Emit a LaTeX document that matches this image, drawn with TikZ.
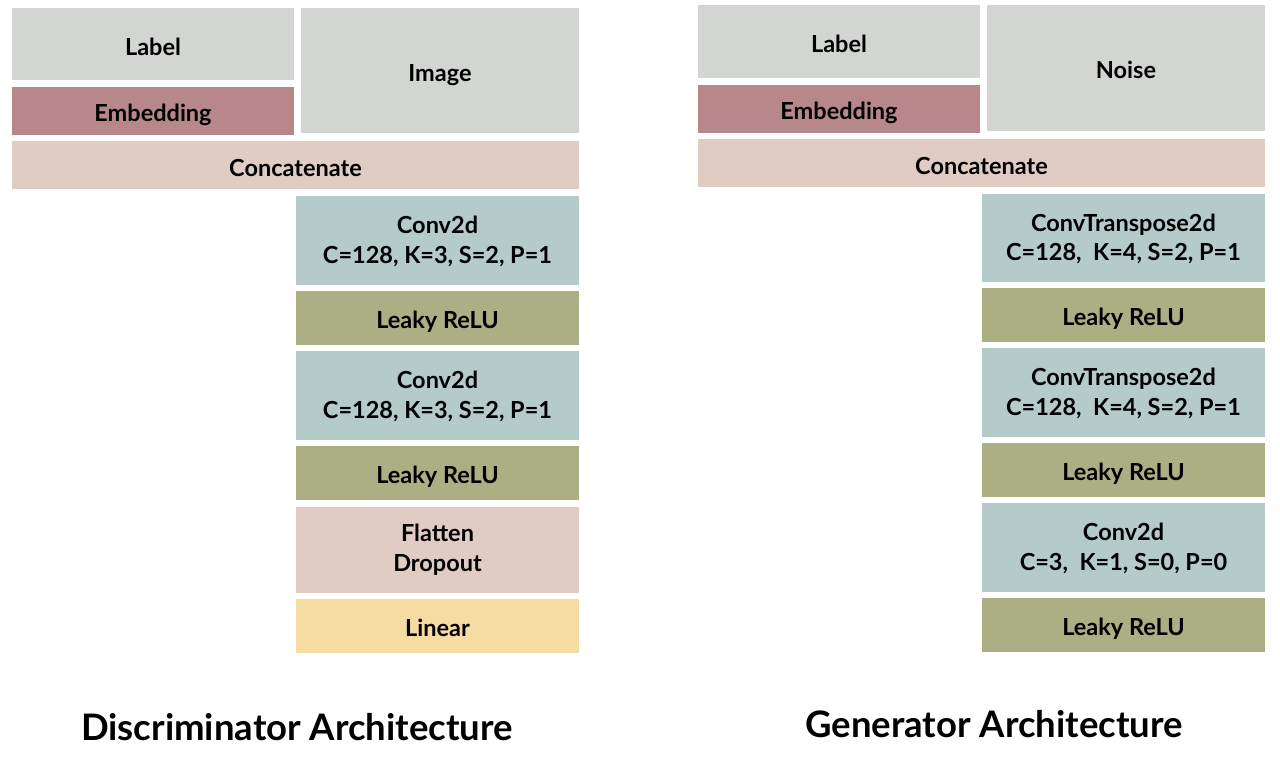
\documentclass[tikz,border=0pt]{standalone}
\usepackage{fontspec}
\setmainfont{Lato}
\definecolor{cgray}{HTML}{D3D5D2}
\definecolor{cmauve}{HTML}{B7878B}
\definecolor{cconcat}{HTML}{E0CCC2}
\definecolor{cteal}{HTML}{B5CBC9}
\definecolor{colive}{HTML}{ACAF84}
\definecolor{cyellow}{HTML}{F6DCA3}
\newcommand{\blk}[8]{%
  \node[blk, fill=#6, minimum width={(#4)-(#2)}, minimum height={(#5)-(#3)}]
    (#1) at ({((#2)+(#4))/2},{((#3)+(#5))/2})
    {\raisebox{-#8pt}[\height][\depth]{\begin{tabular}{@{}c@{}}#7\end{tabular}}};}
\begin{document}
\begin{tikzpicture}[x=1pt,y=-1pt,
  blk/.style={rectangle, draw=none, inner sep=0pt, align=center,
    font=\fontsize{23.5}{29.5}\selectfont\bfseries, text=black},
  ttl/.style={font=\fontsize{36.5}{42}\selectfont\bfseries, text=black}]
\useasboundingbox[fill=white] (0,0) rectangle (1280,762);
% Discriminator
\blk{dlabel}{12}{8}{294}{80}{cgray}{Label}{5.5}
\blk{demb}{12}{87}{294}{135}{cmauve}{Embedding}{5}
\blk{dimg}{301}{8}{579}{133}{cgray}{Image}{5}
\blk{dcat}{12}{141}{579}{189}{cconcat}{Concatenate}{5.5}
\blk{dconv1}{296}{196}{579}{285}{cteal}{Conv2d\\C=128, K=3, S=2, P=1}{2}
\blk{drelu1}{296}{291}{579}{345}{colive}{Leaky ReLU}{5}
\blk{dconv2}{296}{351}{579}{440}{cteal}{Conv2d\\C=128, K=3, S=2, P=1}{2}
\blk{drelu2}{296}{446}{579}{500}{colive}{Leaky ReLU}{5}
\blk{dflat}{296}{507}{579}{593}{cconcat}{Flatten\\Dropout}{0.5}
\blk{dlin}{296}{599}{579}{653}{cyellow}{Linear}{5}
\node[ttl] (dtitle) at (297,727) {Discriminator Architecture};
% Generator
\blk{glabel}{698}{5}{980}{78}{cgray}{Label}{5.5}
\blk{gemb}{698}{85}{980}{133}{cmauve}{Embedding}{5}
\blk{gnoise}{987}{5}{1265}{131}{cgray}{Noise}{5}
\blk{gcat}{698}{139}{1265}{187}{cconcat}{Concatenate}{5.5}
\blk{gct1}{982}{194}{1265}{282}{cteal}{ConvTranspose2d\\C=128,\ \ K=4, S=2, P=1}{2}
\blk{grelu1}{982}{288}{1265}{342}{colive}{Leaky ReLU}{5}
\blk{gct2}{982}{348}{1265}{437}{cteal}{ConvTranspose2d\\C=128,\ \ K=4, S=2, P=1}{2}
\blk{grelu2}{982}{443}{1265}{497}{colive}{Leaky ReLU}{5}
\blk{gconv}{982}{503}{1265}{592}{cteal}{Conv2d\\C=3,\ \ K=1, S=0, P=0}{2}
\blk{grelu3}{982}{598}{1265}{652}{colive}{Leaky ReLU}{5}
\node[ttl] (gtitle) at (994,724) {Generator Architecture};
\end{tikzpicture}
\end{document}
